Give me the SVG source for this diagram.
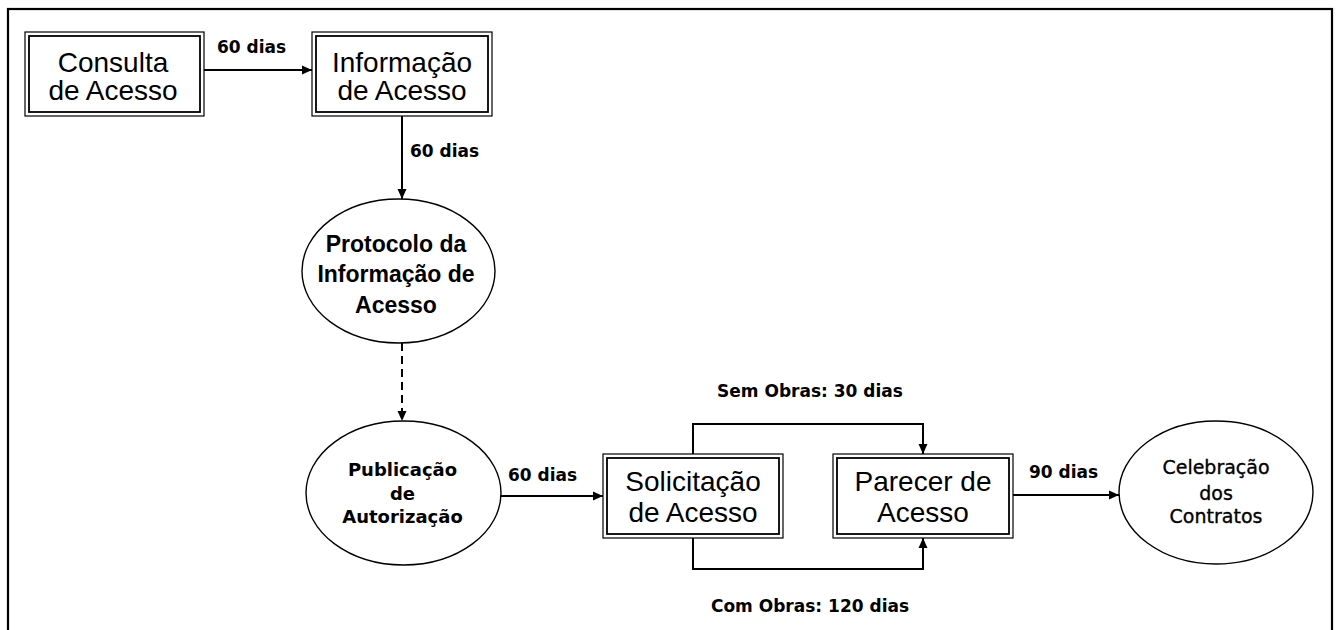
<svg xmlns="http://www.w3.org/2000/svg" width="1338" height="630" viewBox="0 0 1338 630">
<style>
.frame{fill:none;stroke:#000;stroke-width:2.2}
.bo{fill:#fff;stroke:#000;stroke-width:1.2}
.bi{fill:none;stroke:#000;stroke-width:1.8}
.el{fill:#fff;stroke:#000;stroke-width:1.4}
.bt{font-family:"Liberation Sans",Arial,sans-serif;font-size:28px;fill:#000;text-anchor:middle}
.et{font-family:"DejaVu Sans",Verdana,sans-serif;font-weight:bold;font-size:17px;fill:#000}
.pt{font-family:"Liberation Sans",Arial,sans-serif;font-weight:bold;font-size:23px;fill:#000;text-anchor:middle}
.ct{font-family:"DejaVu Sans",Verdana,sans-serif;font-weight:bold;font-size:18px;fill:#000;text-anchor:middle}
.cr{font-family:"DejaVu Sans",Verdana,sans-serif;font-size:19px;fill:#000;stroke:#000;stroke-width:0.35;text-anchor:middle}
.ln{fill:none;stroke:#000;stroke-width:2}
.dash{stroke-dasharray:8,5}
</style>
<defs>
<marker id="ah" markerUnits="userSpaceOnUse" markerWidth="10" markerHeight="10" viewBox="0 0 10 10" refX="10" refY="5" orient="auto">
<path d="M0,0.5 L10,5 L0,9.5 Z" fill="#000"/>
</marker>
</defs>
<rect class="frame" x="8" y="9" width="1324" height="640"/>

<g id="connectors">
<line class="ln" x1="204" y1="70" x2="312" y2="70" marker-end="url(#ah)"/>
<line class="ln" x1="402" y1="116" x2="402" y2="199" marker-end="url(#ah)"/>
<line class="ln dash" x1="402" y1="343" x2="402" y2="421" marker-end="url(#ah)"/>
<line class="ln" x1="501" y1="496" x2="603" y2="496" marker-end="url(#ah)"/>
<path class="ln" d="M693,454 V424 H923 V454" marker-end="url(#ah)"/>
<path class="ln" d="M693,538 V569 H923 V538" marker-end="url(#ah)"/>
<line class="ln" x1="1013" y1="495" x2="1119" y2="495" marker-end="url(#ah)"/>
<text class="et" x="217" y="53">60 dias</text>
<text class="et" x="410" y="157">60 dias</text>
<text class="et" x="508" y="481">60 dias</text>
<text class="et" x="1029" y="478">90 dias</text>
<text class="et" x="810" y="397" text-anchor="middle">Sem Obras: 30 dias</text>
<text class="et" x="810" y="612" text-anchor="middle">Com Obras: 120 dias</text>
</g>

<g id="consulta">
<rect class="bo" x="25" y="32" width="179" height="84"/>
<rect class="bi" x="29" y="36" width="171" height="76"/>
<text class="bt" x="113" y="72">Consulta</text>
<text class="bt" x="113" y="100">de Acesso</text>
</g>

<g id="informacao">
<rect class="bo" x="312" y="32" width="180" height="84"/>
<rect class="bi" x="316" y="36" width="172" height="76"/>
<text class="bt" x="402" y="72">Informação</text>
<text class="bt" x="402" y="100">de Acesso</text>
</g>

<g id="protocolo">
<ellipse class="el" cx="398.5" cy="271" rx="96.5" ry="72"/>
<text class="pt" x="396" y="252">Protocolo da</text>
<text class="pt" x="396" y="282">Informação de</text>
<text class="pt" x="396" y="313">Acesso</text>
</g>

<g id="publicacao">
<ellipse class="el" cx="403.5" cy="493" rx="97.5" ry="72"/>
<text class="ct" x="402.5" y="476">Publicação</text>
<text class="ct" x="402.5" y="500">de</text>
<text class="ct" x="402.5" y="523">Autorização</text>
</g>

<g id="solicitacao">
<rect class="bo" x="603" y="454" width="180" height="84"/>
<rect class="bi" x="607" y="458" width="172" height="76"/>
<text class="bt" x="693" y="491">Solicitação</text>
<text class="bt" x="693" y="522">de Acesso</text>
</g>

<g id="parecer">
<rect class="bo" x="833" y="454" width="180" height="84"/>
<rect class="bi" x="837" y="458" width="172" height="76"/>
<text class="bt" x="923" y="491">Parecer de</text>
<text class="bt" x="923" y="522">Acesso</text>
</g>

<g id="celebracao">
<ellipse class="el" cx="1216" cy="492.5" rx="97" ry="71.5"/>
<text class="cr" x="1216" y="474">Celebração</text>
<text class="cr" x="1216" y="500">dos</text>
<text class="cr" x="1216" y="523">Contratos</text>
</g>
</svg>
